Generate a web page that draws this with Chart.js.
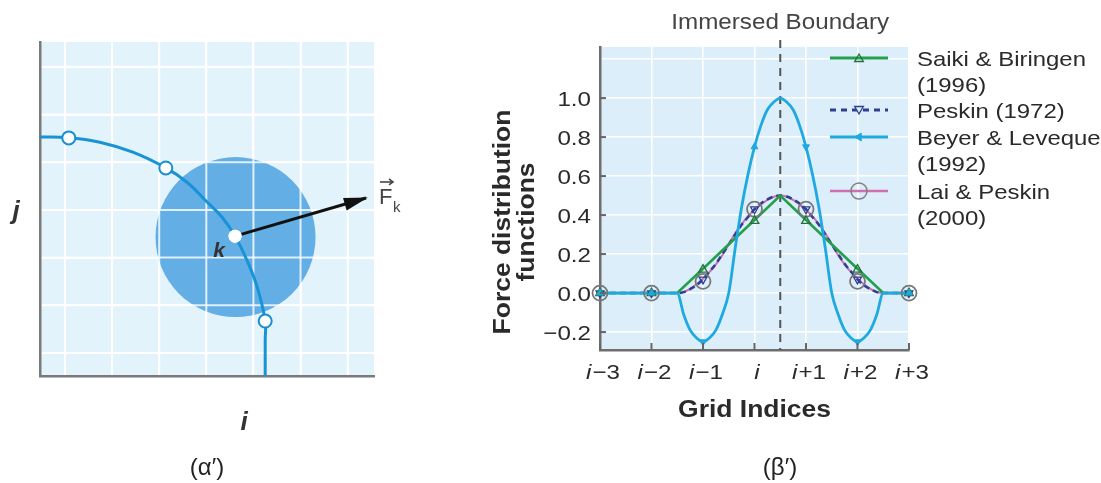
<!DOCTYPE html>
<html><head><meta charset="utf-8">
<script src="https://cdn.jsdelivr.net/npm/chart.js"></script>
<style>
html,body{margin:0;padding:0;background:#fff;width:1101px;height:483px;overflow:hidden;}
#wrapA{position:absolute;left:0;top:0;width:440px;height:483px;}
#wrapB{position:absolute;left:440px;top:0;width:661px;height:483px;}
.cap{position:absolute;top:453px;width:100px;text-align:center;font:24px "Liberation Sans",Arial,sans-serif;line-height:28px;color:#222;}
</style></head><body>
<div id="wrapA"><canvas id="cA"></canvas></div>
<div id="wrapB"><canvas id="cB"></canvas></div>
<div class="cap" style="left:157px">(α′)</div>
<div class="cap" style="left:730px">(β′)</div>
<script>
// ---------- Panel (α′): boundary sketch, grid units ----------
const gridLinesA = [0, 1, 2, 3, 4, 5, 6];
const arcX = [-0.53, 0.08, 0.74, 1.44, 2.14, 2.59, 3.01, 3.33, 3.61, 3.86, 4.08, 4.25, 4.25, 4.25];
const arcY = [4.53, 4.51, 4.42, 4.21, 3.88, 3.58, 3.17, 2.85, 2.45, 1.95, 1.38, 0.67, 0.27, -0.48];
const boundaryMarkX = [0.08, 2.14, 4.25];
const boundaryMarkY = [4.51, 3.88, 0.67];
const kPoint = [3.61, 2.45];
const forceTip = [6.39, 3.25];
const diskCenter = [3.62, 2.43];

// ---------- Panel (β′): force distribution functions ----------
const xTickValues = [-3, -2, -1, 0, 1, 2, 3];
const xTickSuffix = ['−3', '−2', '−1', '', '+1', '+2', '+3'];
const yTickValues = [-0.2, 0, 0.2, 0.4, 0.6, 0.8, 1.0, 1.2];
const yTickLabels = ['−0.2', '0.0', '0.2', '0.4', '0.6', '0.8', '1.0', ''];
const boundaryX = 0.5;
const seriesNames = ['Saiki & Biringen (1996)', 'Peskin (1972)', 'Beyer & Leveque (1992)', 'Lai & Peskin (2000)'];
const legendLines = [['Saiki & Biringen', '(1996)'], ['Peskin (1972)'], ['Beyer & Leveque', '(1992)'], ['Lai & Peskin', '(2000)']];

const curveX = [-3, -2, -1.5, -1.375, -1.25, -1.125, -1, -0.875, -0.75, -0.625, -0.5, -0.375, -0.25, -0.125, 0, 0.125, 0.25, 0.375, 0.5,
  0.625, 0.75, 0.875, 1, 1.125, 1.25, 1.375, 1.5, 1.625, 1.75, 1.875, 2, 2.125, 2.25, 2.375, 2.5, 3];
const beyerCurve = [0, 0, 0, -0.11, -0.19, -0.23, -0.25, -0.23, -0.19, -0.11, 0, 0.23, 0.44, 0.61, 0.75, 0.86, 0.94, 0.98, 1.0,
  0.98, 0.94, 0.86, 0.75, 0.61, 0.44, 0.23, 0, -0.11, -0.19, -0.23, -0.25, -0.23, -0.19, -0.11, 0, 0];
const peskinCurve = [0, 0, 0, 0.005, 0.02, 0.04, 0.07, 0.11, 0.15, 0.20, 0.25, 0.30, 0.35, 0.39, 0.43, 0.46, 0.48, 0.495, 0.5,
  0.495, 0.48, 0.46, 0.43, 0.39, 0.35, 0.30, 0.25, 0.20, 0.15, 0.11, 0.07, 0.04, 0.02, 0.005, 0, 0];
const laiCurve = [0, 0, 0, 0.006, 0.022, 0.045, 0.073, 0.107, 0.147, 0.194, 0.25, 0.306, 0.353, 0.393, 0.427, 0.455, 0.478, 0.494, 0.5,
  0.494, 0.478, 0.455, 0.427, 0.393, 0.353, 0.306, 0.25, 0.194, 0.147, 0.107, 0.073, 0.045, 0.022, 0.006, 0, 0];
const saikiX = [-3, -2, -1.5, -1, 0, 0.5, 1, 2, 2.5, 3];
const saikiY = [0, 0, 0, 0.125, 0.375, 0.5, 0.375, 0.125, 0, 0];

const saikiMarks = [0, 0, 0.12, 0.37, 0.37, 0.12, 0];
const peskinMarks = [0, 0, 0.07, 0.43, 0.43, 0.07, 0];
const beyerMarks = [0, 0, -0.25, 0.75, 0.75, -0.25, 0];
const laiMarks = [0, 0, 0.06, 0.43, 0.43, 0.06, 0];

// ---------- helpers ----------
const FF = '"Liberation Sans", Arial, Helvetica, sans-serif';
const pts = (xs, ys) => xs.map((x, i) => ({x: x, y: ys[i]}));
function txt(ctx, s, x, y, o) {
  ctx.save();
  ctx.font = o.font; ctx.fillStyle = o.color || '#333';
  ctx.textAlign = o.align || 'left'; ctx.textBaseline = o.baseline || 'alphabetic';
  ctx.translate(x, y);
  if (o.rot) ctx.rotate(o.rot);
  ctx.scale(o.sx || 1, 1);
  ctx.fillText(s, 0, 0);
  ctx.restore();
}
function tw(ctx, s, font, sx) { ctx.save(); ctx.font = font; const w = ctx.measureText(s).width * (sx || 1); ctx.restore(); return w; }
function mark(ctx, style, x, y, r, rotDeg, fill, stroke, lw) {
  ctx.save(); ctx.translate(x, y); ctx.rotate((rotDeg || 0) * Math.PI / 180);
  ctx.beginPath();
  if (style === 'circle') ctx.arc(0, 0, r, 0, 2 * Math.PI);
  else { ctx.moveTo(0, -r); ctx.lineTo(r * 0.866, r * 0.5); ctx.lineTo(-r * 0.866, r * 0.5); ctx.closePath(); }
  if (fill) { ctx.fillStyle = fill; ctx.fill(); }
  if (stroke) { ctx.strokeStyle = stroke; ctx.lineWidth = lw || 1; ctx.stroke(); }
  ctx.restore();
}
const gridOpts = (w) => ({color: '#ffffff', lineWidth: w, drawTicks: false, tickLength: 0, tickColor: 'rgba(0,0,0,0)'});

// ---------- chart (α′) ----------
const BG_A = '#e2f3fc';
const alphaPlugin = {
  id: 'alphaPlugin',
  beforeDraw(chart) {
    const {ctx, chartArea: a} = chart;
    ctx.save(); ctx.fillStyle = BG_A; ctx.fillRect(a.left, a.top, a.right - a.left, a.bottom - a.top); ctx.restore();
  },
  afterDatasetDraw(chart, args) {
    if (args.meta.type !== 'bubble') return;
    const {ctx, chartArea: a, scales: {x, y}} = chart;
    ctx.save(); ctx.strokeStyle = 'rgba(255,255,255,0.8)'; ctx.lineWidth = 2;
    gridLinesA.forEach(v => {
      const px = x.getPixelForValue(v), py = y.getPixelForValue(v);
      ctx.beginPath(); ctx.moveTo(px, a.top); ctx.lineTo(px, a.bottom - 2); ctx.stroke();
      ctx.beginPath(); ctx.moveTo(a.left + 2, py); ctx.lineTo(a.right, py); ctx.stroke();
    });
    ctx.restore();
  },
  afterDraw(chart) {
    const {ctx} = chart;
    const meta = chart.getDatasetMeta(2);
    const p0 = meta.data[0], p1 = meta.data[1];
    const ang = Math.atan2(p1.y - p0.y, p1.x - p0.x);
    ctx.save(); ctx.translate(p1.x, p1.y); ctx.rotate(ang);
    ctx.beginPath(); ctx.moveTo(2, 0); ctx.lineTo(-22, -6.5); ctx.lineTo(-22, 6.5); ctx.closePath();
    ctx.fillStyle = '#111'; ctx.fill(); ctx.restore();
    const km = chart.getDatasetMeta(0).data[0];
    ctx.save(); ctx.beginPath(); ctx.arc(km.x, km.y, 6.5, 0, 2 * Math.PI); ctx.fillStyle = '#fff'; ctx.fill(); ctx.restore();
    txt(ctx, 'j', 16, 219, {font: 'italic bold 26px ' + FF, color: '#333', align: 'center'});
    txt(ctx, 'i', 244, 430, {font: 'italic bold 26px ' + FF, color: '#333', align: 'center'});
    txt(ctx, 'k', km.x - 16, km.y + 21, {font: 'italic bold 21px ' + FF, color: '#333', align: 'center'});
    const fx = p1.x + 13, fy = p1.y + 6;
    txt(ctx, 'F', fx, fy, {font: '22px ' + FF, color: '#444'});
    txt(ctx, 'k', fx + 14, fy + 8, {font: '15px ' + FF, color: '#444'});
    ctx.save(); ctx.strokeStyle = '#444'; ctx.lineWidth = 1.6;
    ctx.beginPath(); ctx.moveTo(fx + 1, fy - 22); ctx.lineTo(fx + 14, fy - 22); ctx.stroke();
    ctx.beginPath(); ctx.moveTo(fx + 10, fy - 25); ctx.lineTo(fx + 14, fy - 22); ctx.lineTo(fx + 10, fy - 19); ctx.stroke();
    ctx.restore();
  }
};

new Chart(document.getElementById('cA'), {
  type: 'scatter',
  data: {
    datasets: [
      {label: 'k', data: pts([kPoint[0]], [kPoint[1]]), pointRadius: 6.5, pointBackgroundColor: '#fff', pointBorderColor: '#fff', pointBorderWidth: 0, order: 1},
      {label: 'boundary points', data: pts(boundaryMarkX, boundaryMarkY), pointRadius: 6.5, pointBackgroundColor: '#fff', pointBorderColor: '#1a8fd0', pointBorderWidth: 2, order: 2},
      {label: 'F_k', data: pts([kPoint[0], forceTip[0]], [kPoint[1], forceTip[1]]), showLine: true, borderColor: '#111', borderWidth: 3, pointRadius: 0, order: 3},
      {label: 'boundary', data: pts(arcX, arcY), showLine: true, borderColor: '#1893d6', borderWidth: 3, pointRadius: 0, tension: 0.4, order: 4},
      {label: 'support', type: 'bubble', data: pts([diskCenter[0]], [diskCenter[1]]), radius: 80, backgroundColor: '#63aee5', borderWidth: 0, order: 10}
    ]
  },
  options: {
    responsive: true, maintainAspectRatio: false, animation: false, events: [],
    layout: {autoPadding: false, padding: {left: 40, top: 42, right: 66, bottom: 107}},
    plugins: {legend: {display: false}, tooltip: {enabled: false}},
    scales: {
      x: {type: 'linear', min: -0.531, max: 6.56, afterFit: s => { s.height = 0; },
          afterBuildTicks: s => { s.ticks = gridLinesA.map(v => ({value: v})); },
          grid: gridOpts(2), border: {display: true, color: '#7a7a7a', width: 2.5}, ticks: {display: false}},
      y: {type: 'linear', min: -0.482, max: 6.52, afterFit: s => { s.width = 0; },
          afterBuildTicks: s => { s.ticks = gridLinesA.map(v => ({value: v})); },
          grid: gridOpts(2), border: {display: true, color: '#7a7a7a', width: 2.5}, ticks: {display: false}}
    }
  },
  plugins: [alphaPlugin]
});

// ---------- chart (β′) ----------
const BG_B = '#dbeefa';
const C_CYAN = '#1fa9e1', C_GREEN = '#22a04b', C_NAVY = '#2e3f91', C_PINK = '#cf6fae';
const SX = 1.15;
const betaPlugin = {
  id: 'betaPlugin',
  beforeDraw(chart) {
    const {ctx, chartArea: a} = chart;
    ctx.save(); ctx.fillStyle = BG_B; ctx.fillRect(a.left, a.top, a.right - a.left, a.bottom - a.top); ctx.restore();
  },
  beforeDatasetsDraw(chart) {
    const {ctx, chartArea: a, scales: {x}} = chart;
    const px = x.getPixelForValue(boundaryX);
    ctx.save(); ctx.strokeStyle = '#555'; ctx.lineWidth = 2; ctx.setLineDash([8, 6]);
    ctx.beginPath(); ctx.moveTo(px, a.top - 7); ctx.lineTo(px, a.bottom); ctx.stroke(); ctx.restore();
  },
  afterDraw(chart) {
    const {ctx, chartArea: a, scales: {x, y}} = chart;
    const tickFont = '21px ' + FF, tickItal = 'italic 21px ' + FF;
    const TC = '#2a2a2a';
    ctx.save(); ctx.strokeStyle = '#666'; ctx.lineWidth = 2;
    yTickValues.forEach((v, i) => { if (!yTickLabels[i]) return; const py = y.getPixelForValue(v);
      ctx.beginPath(); ctx.moveTo(a.left, py); ctx.lineTo(a.left + 6, py); ctx.stroke(); });
    xTickValues.forEach(v => { const px = x.getPixelForValue(v);
      ctx.beginPath(); ctx.moveTo(px, a.bottom); ctx.lineTo(px, a.bottom - 7); ctx.stroke(); });
    ctx.restore();
    yTickValues.forEach((v, i) => { if (!yTickLabels[i]) return;
      txt(ctx, yTickLabels[i], a.left - 9, y.getPixelForValue(v) + 7.5, {font: tickFont, color: TC, align: 'right', sx: SX}); });
    xTickValues.forEach((v, i) => {
      const cx = x.getPixelForValue(v) + 3;
      const w1 = tw(ctx, 'i', tickItal, SX), w2 = tw(ctx, xTickSuffix[i], tickFont, SX);
      const x0 = cx - (w1 + w2 + 1) / 2;
      txt(ctx, 'i', x0, 379, {font: tickItal, color: TC, sx: SX});
      txt(ctx, xTickSuffix[i], x0 + w1 + 1, 379, {font: tickFont, color: TC, sx: SX});
    });
    txt(ctx, 'Grid Indices', (a.left + a.right) / 2, 417, {font: 'bold 23px ' + FF, color: TC, align: 'center', sx: SX});
    txt(ctx, 'Force distribution', 510 - 440, 222, {font: 'bold 23px ' + FF, color: TC, align: 'center', sx: SX, rot: -Math.PI / 2});
    txt(ctx, 'functions', 534 - 440, 222, {font: 'bold 23px ' + FF, color: TC, align: 'center', sx: SX, rot: -Math.PI / 2});
    txt(ctx, 'Immersed Boundary', x.getPixelForValue(boundaryX), 29, {font: '22px ' + FF, color: '#444', align: 'center', sx: 1.1});
    const lx0 = 830 - 440, lx1 = 888 - 440, lm = 859 - 440, tx = 917 - 440;
    const rows = [58, 110, 137, 191];
    const lineH = 26.5;
    const styles = [
      {c: C_GREEN, dash: [], w: 3, m: () => mark(ctx, 'tri', lm, rows[0] + 1, 5, 0, null, '#2a6e3f', 1.3)},
      {c: C_NAVY, dash: [6, 5], w: 3, m: () => mark(ctx, 'tri', lm, rows[1] - 1, 5, 180, BG_B, C_NAVY, 1.3)},
      {c: C_CYAN, dash: [], w: 3, m: () => mark(ctx, 'tri', lm, rows[2], 4.5, -90, C_CYAN, C_CYAN, 1)},
      {c: C_PINK, dash: [], w: 2.5, m: () => mark(ctx, 'circle', lm, rows[3], 8, 0, null, '#808080', 1.5)}
    ];
    styles.forEach((s, i) => {
      ctx.save(); ctx.strokeStyle = s.c; ctx.lineWidth = s.w; ctx.setLineDash(s.dash);
      ctx.beginPath(); ctx.moveTo(lx0, rows[i]); ctx.lineTo(lx1, rows[i]); ctx.stroke(); ctx.restore();
      s.m();
      legendLines[i].forEach((t, j) => txt(ctx, t, tx, rows[i] + 7.5 + j * lineH, {font: '21px ' + FF, color: TC, sx: 1.14}));
    });
  }
};

new Chart(document.getElementById('cB'), {
  type: 'scatter',
  data: {
    datasets: [
      {label: seriesNames[2] + ' marks', data: pts(xTickValues, beyerMarks), pointStyle: 'triangle', pointRadius: 4,
       rotation: [0, 0, 180, 0, 180, 180, 0], pointBackgroundColor: C_CYAN, pointBorderColor: C_CYAN, pointBorderWidth: 1, order: 1, clip: false},
      {label: seriesNames[0] + ' marks', data: pts(xTickValues, saikiMarks), pointStyle: 'triangle', pointRadius: 5,
       pointBackgroundColor: 'rgba(0,0,0,0)', pointBorderColor: '#2a6e3f', pointBorderWidth: 1.3, order: 2, clip: false},
      {label: seriesNames[1] + ' marks', data: pts(xTickValues, peskinMarks), pointStyle: 'triangle', pointRadius: 4.5, rotation: 180,
       pointBackgroundColor: 'rgba(0,0,0,0)', pointBorderColor: C_NAVY, pointBorderWidth: 1.3, order: 3, clip: false},
      {label: seriesNames[3] + ' marks', data: pts(xTickValues, laiMarks), pointStyle: 'circle', pointRadius: 7.5,
       pointBackgroundColor: 'rgba(0,0,0,0)', pointBorderColor: '#777777', pointBorderWidth: 1.8, order: 4, clip: false},
      {label: seriesNames[2], data: pts(curveX, beyerCurve), showLine: true, pointRadius: 0, borderColor: C_CYAN, borderWidth: 2.8,
       cubicInterpolationMode: 'monotone', order: 5},
      {label: seriesNames[0], data: pts(saikiX, saikiY), showLine: true, pointRadius: 0, borderColor: C_GREEN, borderWidth: 2.6, tension: 0, order: 6},
      {label: seriesNames[1], data: pts(curveX, peskinCurve), showLine: true, pointRadius: 0, borderColor: C_NAVY, borderWidth: 2.5,
       borderDash: [6, 4], cubicInterpolationMode: 'monotone', order: 7},
      {label: seriesNames[3], data: pts(curveX, laiCurve), showLine: true, pointRadius: 0, borderColor: C_PINK, borderWidth: 2,
       cubicInterpolationMode: 'monotone', order: 8}
    ]
  },
  options: {
    responsive: true, maintainAspectRatio: false, animation: false, events: [],
    layout: {autoPadding: false, padding: {left: 160, top: 47, right: 192, bottom: 133}},
    plugins: {legend: {display: false}, tooltip: {enabled: false}},
    scales: {
      x: {type: 'linear', min: -3, max: 3, afterFit: s => { s.height = 0; },
          afterBuildTicks: s => { s.ticks = xTickValues.map(v => ({value: v})); },
          grid: gridOpts(1.6), border: {display: true, color: '#6e6e6e', width: 2.5}, ticks: {display: false}},
      y: {type: 'linear', min: -0.292, max: 1.262, afterFit: s => { s.width = 0; },
          afterBuildTicks: s => { s.ticks = yTickValues.map(v => ({value: v})); },
          grid: gridOpts(1.6), border: {display: true, color: '#6e6e6e', width: 2.5}, ticks: {display: false}}
    }
  },
  plugins: [betaPlugin]
});
</script>
</body></html>
